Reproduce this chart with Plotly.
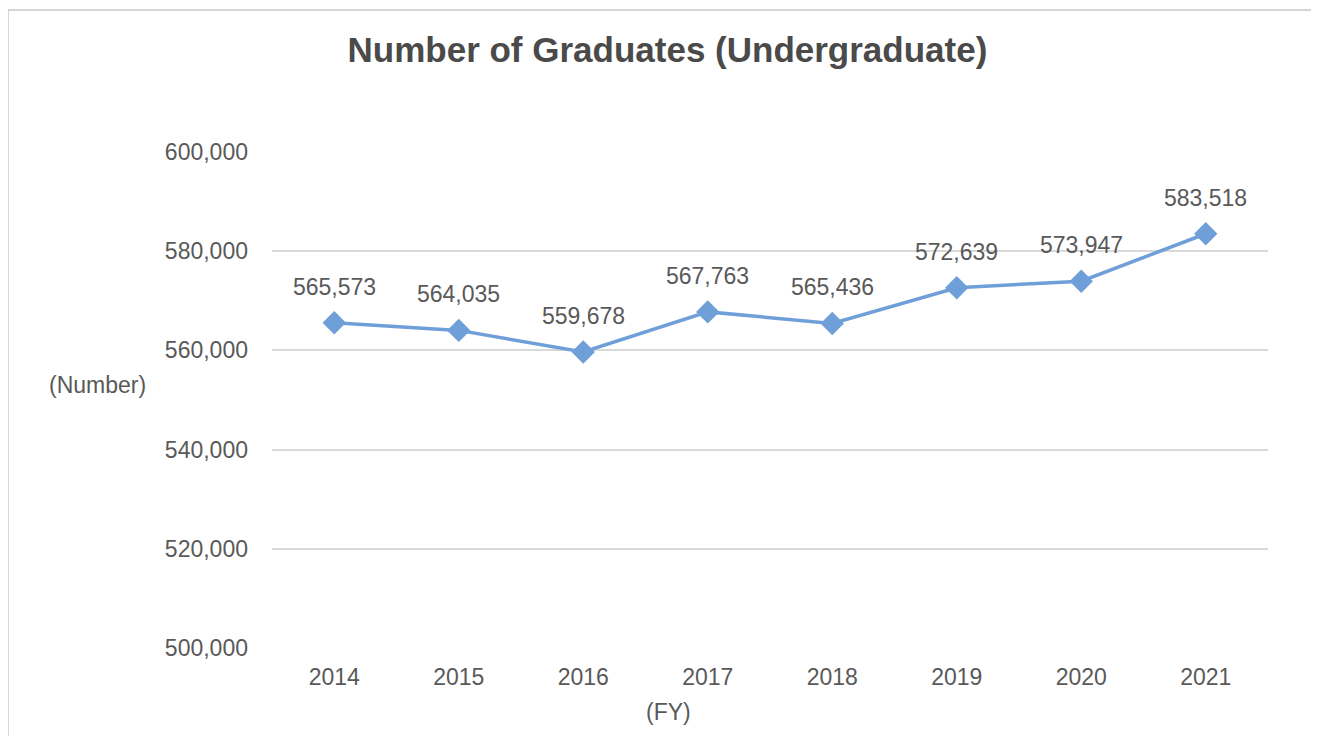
import plotly.graph_objects as go

years = ["2014", "2015", "2016", "2017", "2018", "2019", "2020", "2021"]
graduates = [565573, 564035, 559678, 567763, 565436, 572639, 573947, 583518]
y_ticks = [500000, 520000, 540000, 560000, 580000, 600000]
y_tick_labels = ["500,000", "520,000", "540,000", "560,000", "580,000", "600,000"]

x_pos = list(range(len(years)))

line_color = "#6F9FD8"
text_color = "#595959"
font_family = "Liberation Sans, Arial, sans-serif"

fig = go.Figure()
fig.add_trace(go.Scatter(
    x=x_pos, y=graduates, mode="lines+markers",
    line=dict(color=line_color, width=3.5),
    marker=dict(symbol="diamond", size=18, color=line_color),
    hoverinfo="skip", showlegend=False,
))

for x, y in zip(x_pos, graduates):
    fig.add_annotation(x=x, y=y, text=f"{y:,}", showarrow=False, yshift=36,
                       font=dict(size=23, color=text_color, family=font_family))

fig.add_annotation(text="(Number)", xref="paper", yref="paper", x=-0.1245, y=0.53,
                   xanchor="right", yanchor="middle", showarrow=False,
                   font=dict(size=23, color=text_color, family=font_family))
fig.add_annotation(text="(FY)", xref="paper", yref="paper", x=0.3976, y=-0.129,
                   xanchor="center", yanchor="middle", showarrow=False,
                   font=dict(size=23, color=text_color, family=font_family))

fig.add_shape(type="rect", xref="paper", yref="paper",
              x0=-0.2651, x1=1.0502, y0=-0.2, y1=1.2863,
              line=dict(color="#C8C8C8", width=1.5), fillcolor="rgba(0,0,0,0)", layer="below")

fig.update_layout(
    width=1311, height=728,
    margin=dict(l=264, r=51, t=144, b=88),
    paper_bgcolor="white", plot_bgcolor="white",
    title=dict(text="<b>Number of Graduates (Undergraduate)</b>", x=0.503, xref="container",
               y=1 - 42 / 728, yref="container", yanchor="middle", xanchor="center",
               font=dict(size=35, color="#4A4A4A", family=font_family)),
    xaxis=dict(range=[-0.5, 7.5], tickvals=x_pos, ticktext=years,
               showgrid=False, showline=False, zeroline=False, ticks="",
               tickfont=dict(size=23, color=text_color, family=font_family),
               ticklabelstandoff=13),
    yaxis=dict(range=[500000, 600000], tickvals=y_ticks, ticktext=y_tick_labels,
               showgrid=True, gridcolor="#D9D9D9", gridwidth=1.5,
               zeroline=False, showline=False, ticks="",
               tickfont=dict(size=23, color=text_color, family=font_family),
               ticklabelstandoff=23),
)

fig.write_html("out.html")
